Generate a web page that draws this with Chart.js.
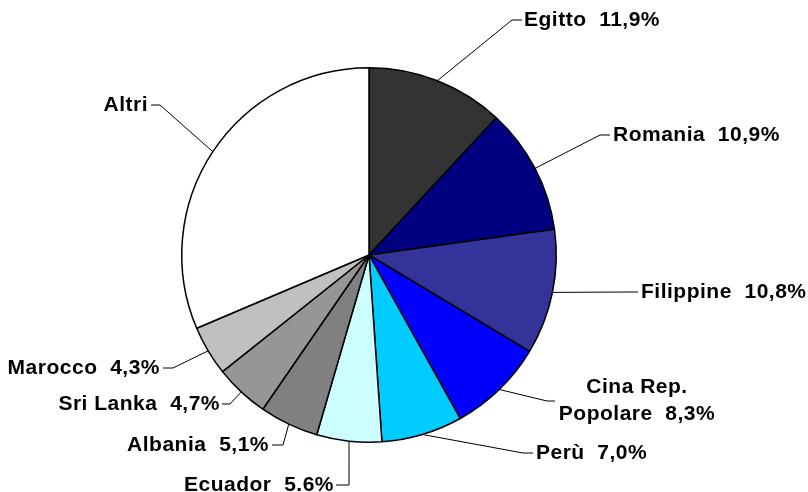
<!DOCTYPE html>
<html>
<head>
  <meta charset="utf-8">
  <title>Paesi di provenienza</title>
  <script src="https://cdn.jsdelivr.net/npm/chart.js"></script>
  <style>
    html, body { margin: 0; padding: 0; background: #fff; }
    #wrap { width: 808px; height: 492px; }
  </style>
</head>
<body>
  <div id="wrap"><canvas id="pie" width="808" height="492"></canvas></div>

  <script>
    // data (percentages)
    const countries = ["Egitto", "Romania", "Filippine", "Cina Rep. Popolare", "Perù", "Ecuador", "Albania", "Sri Lanka", "Marocco", "Altri"];
    const shares = [11.9, 10.9, 10.8, 8.3, 7.0, 5.6, 5.1, 4.7, 4.3, 31.4];
    const labelLines = [
      ["Egitto  11,9%"],
      ["Romania  10,9%"],
      ["Filippine  10,8%"],
      ["Cina Rep.", "Popolare  8,3%"],
      ["Perù  7,0%"],
      ["Ecuador  5.6%"],
      ["Albania  5,1%"],
      ["Sri Lanka  4,7%"],
      ["Marocco  4,3%"],
      ["Altri"]
    ];

    const colors = ["#333333", "#000080", "#333399", "#0000ff", "#00ccff", "#ccffff", "#808080", "#969696", "#c0c0c0", "#ffffff"];

    // leader line elbows and label placement (pixels)
    const layout = [
      { ex: 512, ey: 20,  lx: 522, tx: 524, ty: 20,  align: "left" },
      { ex: 600, ey: 135, lx: 610, tx: 613, ty: 135, align: "left" },
      { ex: 627, ey: 292, lx: 638, tx: 641, ty: 292, align: "left" },
      { ex: 547, ey: 401, lx: 555, tx: 637, ty: 387, align: "center" },
      { ex: 523, ey: 453, lx: 533, tx: 536, ty: 453, align: "left" },
      { ex: 349, ey: 485, lx: 336, tx: 334, ty: 485, align: "right" },
      { ex: 283, ey: 445, lx: 272, tx: 269, ty: 445, align: "right" },
      { ex: 230, ey: 404, lx: 222, tx: 220, ty: 404, align: "right" },
      { ex: 173, ey: 368, lx: 163, tx: 160, ty: 368, align: "right" },
      { ex: 160, ey: 105, lx: 151, tx: 148, ty: 105, align: "right" }
    ];

    const leaderLabels = {
      id: "leaderLabels",
      afterDraw(chart) {
        const ctx = chart.ctx;
        const arcs = chart.getDatasetMeta(0).data;
        ctx.save();
        ctx.font = "bold 21px 'Liberation Sans', Arial, sans-serif";
        ctx.letterSpacing = "0.5px";
        ctx.fillStyle = "#000";
        ctx.strokeStyle = "#000";
        ctx.lineWidth = 1;
        ctx.textBaseline = "middle";
        arcs.forEach((arc, i) => {
          const p = layout[i];
          const mid = (arc.startAngle + arc.endAngle) / 2;
          const ax = arc.x + Math.cos(mid) * arc.outerRadius;
          const ay = arc.y + Math.sin(mid) * arc.outerRadius;
          ctx.beginPath();
          ctx.moveTo(ax, ay);
          ctx.lineTo(p.ex, p.ey);
          ctx.lineTo(p.lx, p.ey);
          ctx.stroke();
          ctx.textAlign = p.align;
          labelLines[i].forEach((line, k) => {
            ctx.fillText(line, p.tx, p.ty + k * 27);
          });
        });
        ctx.restore();
      }
    };

    new Chart(document.getElementById("pie"), {
      type: "pie",
      data: {
        labels: countries,
        datasets: [{
          data: shares,
          backgroundColor: colors,
          borderColor: "#000",
          borderWidth: 1.5
        }]
      },
      options: {
        responsive: false,
        animation: false,
        layout: { padding: { left: 181, right: 251, top: 67, bottom: 49 } },
        plugins: {
          legend: { display: false },
          tooltip: { enabled: false }
        }
      },
      plugins: [leaderLabels]
    });
  </script>
</body>
</html>
